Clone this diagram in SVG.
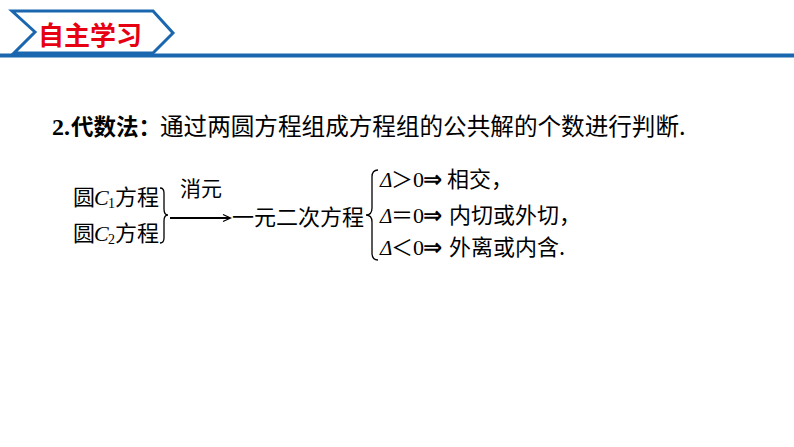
<svg xmlns="http://www.w3.org/2000/svg" width="794" height="447" viewBox="0 0 794 447">
<style>
.cjk{font-family:"Noto Sans CJK SC","Noto Sans",sans-serif;fill:#000}
.lat{font-family:"Liberation Serif","DejaVu Serif",serif;fill:#000}
.it{font-style:italic}
.sym{font-family:"DejaVu Sans","Noto Sans CJK SC",sans-serif;fill:#000;font-size:23px;font-weight:bold}
.brace{fill:none;stroke:#000;stroke-width:1.3}
</style>
<rect width="794" height="447" fill="#fff"/>
<g id="header">
<line x1="0" y1="55.5" x2="794" y2="55.5" stroke="#1a67b0" stroke-width="4"/>
<polygon points="12,11 153,11 173,33 153,53 14,53 35,32" fill="#fff" stroke="#1a67b0" stroke-width="3" stroke-linejoin="miter"/>
<text x="38" y="45" font-family="Noto Sans CJK SC, sans-serif" font-weight="bold" font-size="26" fill="#e60012">自主学习</text>
</g>
<g id="title">
<text x="52" y="135" class="lat" font-weight="bold" font-size="24">2.</text>
<text x="71" y="135" class="cjk" font-weight="bold" font-size="22.5">代数法：</text>
<text x="160" y="135" class="cjk" font-size="23.6">通过两圆方程组成方程组的公共解的个数进行判断.</text>
</g>
<g id="eq1">
<text x="73" y="205" class="cjk" font-size="22">圆</text>
<text x="94" y="205" class="lat it" font-size="22">C</text>
<text x="108" y="208" class="lat" font-size="14">1</text>
<text x="115" y="205" class="cjk" font-size="22">方程</text>
</g>
<g id="eq2">
<text x="73" y="241" class="cjk" font-size="22">圆</text>
<text x="94" y="241" class="lat it" font-size="22">C</text>
<text x="108" y="244" class="lat" font-size="14">2</text>
<text x="115" y="241" class="cjk" font-size="22">方程</text>
</g>
<g id="quadratic">
<text x="232" y="225" class="cjk" font-size="22">一元二次方程</text>
</g>
<g id="case1">
<text x="380" y="187" class="lat it" font-size="21">Δ</text>
<text x="391" y="187" class="cjk" font-size="22">＞</text>
<text x="413" y="187" class="lat" font-size="22">0</text>
<text x="423" y="187" class="sym">⇒</text>
<text x="447" y="187" class="cjk" font-size="22">相交，</text>
</g>
<g id="case2">
<text x="380" y="223" class="lat it" font-size="21">Δ</text>
<text x="391" y="223" class="cjk" font-size="22">＝</text>
<text x="413" y="223" class="lat" font-size="22">0</text>
<text x="423" y="223" class="sym">⇒</text>
<text x="449" y="223" class="cjk" font-size="22">内切或外切，</text>
</g>
<g id="case3">
<text x="380" y="255" class="lat it" font-size="21">Δ</text>
<text x="391" y="255" class="cjk" font-size="22">＜</text>
<text x="413" y="255" class="lat" font-size="22">0</text>
<text x="423" y="255" class="sym">⇒</text>
<text x="449" y="255" class="cjk" font-size="22">外离或内含.</text>
</g>
<g id="connectors">
<path class="brace" d="M160,188 Q164,188 164,193 L164,209 Q164,215 168,215 Q164,215 164,221 L164,238 Q164,243 160,243"/>
<path class="brace" d="M378,170 Q372,170 372,177 L372,208 Q372,215 366,215 Q372,215 372,222 L372,253 Q372,260 378,260"/>
<line x1="170" y1="218" x2="230" y2="218" stroke="#000" stroke-width="2"/>
<path d="M223,214.5 L230.5,218 L223,221.5" fill="none" stroke="#000" stroke-width="1.3"/>
<text x="180" y="196" class="cjk" font-size="21">消元</text>
</g>
</svg>
